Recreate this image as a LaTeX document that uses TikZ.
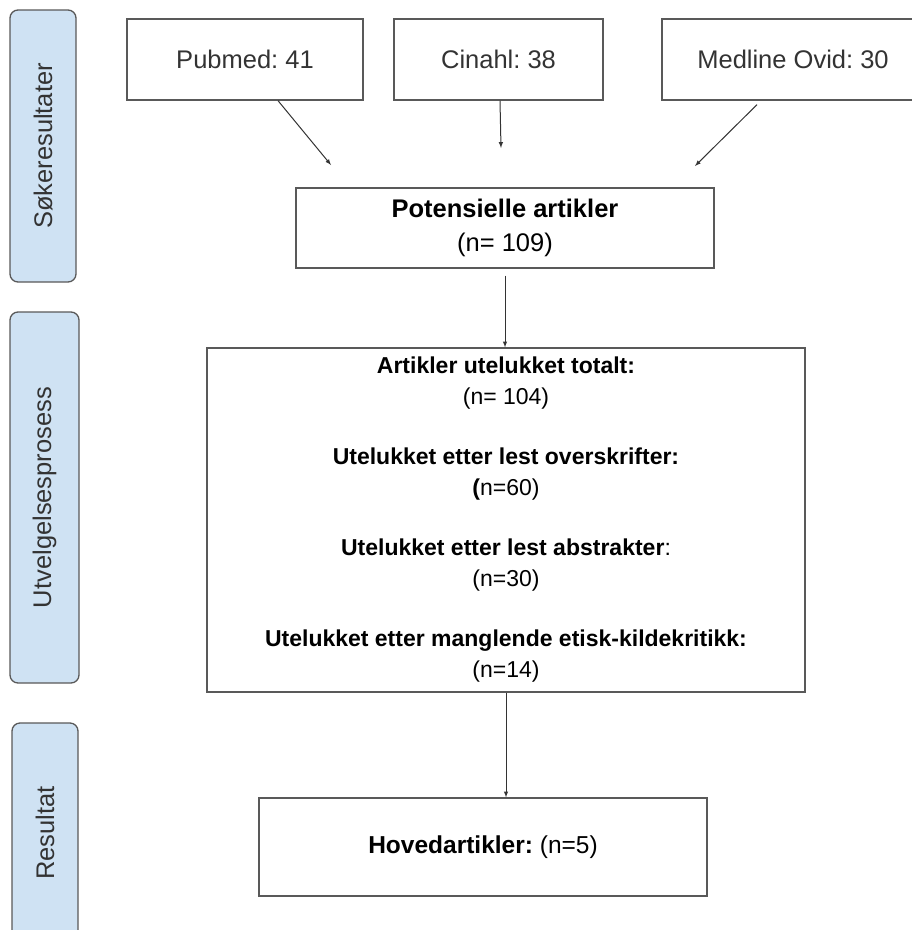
\documentclass[tikz,border=0pt]{standalone}
\usepackage{fontspec}
\setmainfont{Liberation Sans}
\usepackage{tikz}
\usetikzlibrary{arrows, positioning, calc}
\definecolor{sidebla}{HTML}{CFE2F3}
\definecolor{kant}{HTML}{595959}
\definecolor{tekst}{HTML}{333333}
\newcommand{\fs}[2]{\fontsize{#1}{#2}\selectfont}
\frenchspacing

\begin{document}
\begin{tikzpicture}[x=1pt, y=-1pt,
  boks/.style={draw=kant, line width=1.3pt, align=center, inner sep=0pt, text=black},
  side/.style={draw=kant, fill=sidebla, line width=1.3pt, rounded corners=8pt, rotate=90, inner sep=0pt, text=tekst, font=\fs{25.5}{30}},
  pil/.style={-latex, line width=1pt, draw=black!80}]
\useasboundingbox (0,0) rectangle (912,930);

% Sidefelt
\node[side, minimum width=272, minimum height=66] (sok) at (43,146) {Søkeresultater};
\node[side, minimum width=371, minimum height=69] (utv) at (44.5,497.5) {Utvelgelsesprosess};
\node[side, minimum width=220, minimum height=66] (res) at (45,833) {Resultat};

% Databaser
\node[boks, minimum width=236, minimum height=81, font=\fs{25.5}{30}, text=tekst] (pubmed) at (245,59.5) {Pubmed: 41};
\node[boks, minimum width=209, minimum height=81, font=\fs{25.5}{30}, text=tekst] (cinahl) at (498.5,59.5) {Cinahl: 38};
\node[boks, minimum width=262, minimum height=81, font=\fs{25.5}{30}, text=tekst] (medline) at (793,59.5) {Medline Ovid: 30};

% Potensielle artikler
\node[boks, minimum width=418, minimum height=80, font=\fs{25.5}{34}] (pot) at (505,228) {\textbf{Potensielle artikler}\\(n= 109)};

% Utvelgelse
\node[boks, minimum width=598, minimum height=344, font=\fs{23}{31}] (utelukket) at (506,520)
  {\textbf{Artikler utelukket totalt:}\\(n= 104)\\[29pt]
   \textbf{Utelukket etter lest overskrifter:}\\\textbf{(}n=60)\\[29pt]
   \textbf{Utelukket etter lest abstrakter}:\\(n=30)\\[29pt]
   \textbf{Utelukket etter manglende etisk-kildekritikk:}\\(n=14)};

% Resultat
\node[boks, minimum width=448, minimum height=98, font=\fs{24.5}{30}] (hoved) at (483,847) {\textbf{Hovedartikler:} (n=5)};

% Piler
\coordinate (inn1) at (331,165);
\coordinate (inn2) at (501,148);
\coordinate (inn3) at (695,166);
\draw[pil] ([xshift=33pt]pubmed.south) -- (inn1);
\draw[pil] ([xshift=1.5pt]cinahl.south) -- (inn2);
\draw[pil] ([xshift=-36pt,yshift=-4pt]medline.south) -- (inn3);
\draw[pil, shorten <=7pt] (pot.south) -- (pot.south |- utelukket.north);
\draw[pil] (utelukket.south) -- (utelukket.south |- hoved.north);

\end{tikzpicture}
\end{document}
